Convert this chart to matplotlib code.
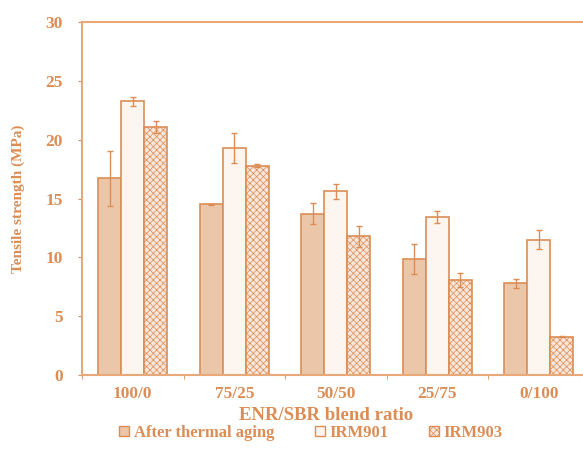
#!/usr/bin/env python3

import numpy as np
import matplotlib.pyplot as plt
from matplotlib.patches import Patch

# dados
ratios = ['100/0', '75/25', '50/50', '25/75', '0/100']
series = ['After thermal aging', 'IRM901', 'IRM903']
aged = [16.7, 14.5, 13.7, 9.85, 7.8]
aged_err = [2.3, 0.05, 0.9, 1.25, 0.4]
irm901 = [23.25, 19.3, 15.6, 13.4, 11.5]
irm901_err = [0.35, 1.3, 0.6, 0.5, 0.8]
irm903 = [21.1, 17.8, 11.8, 8.1, 3.25]
irm903_err = [0.5, 0.1, 0.9, 0.6, 0.05]

laranja = '#dc8d55'
plt.rcParams['font.family'] = ['Liberation Serif', 'DejaVu Serif']
plt.rcParams['hatch.color'] = '#ecbc9c'
plt.rcParams['hatch.linewidth'] = 0.5

fig = plt.figure(figsize=(5.83, 4.51), dpi=100)
ax = fig.add_axes([82/583, 1-375/451, (589.5-82)/583, (375-22)/451])

x = np.arange(len(ratios))
w = 0.225
d = 0.228
ax.bar(x-d, aged, w, color='#ebc6a9', edgecolor=laranja, linewidth=1.2)
ax.bar(x, irm901, w, color='#fdf6f0', edgecolor=laranja, linewidth=1.2)
ax.bar(x+d, irm903, w, color='#f8e6da', edgecolor=laranja, linewidth=1.2, hatch='xxxxx')
for xs, v, e in [(x-d, aged, aged_err), (x, irm901, irm901_err), (x+d, irm903, irm903_err)]:
	ax.errorbar(xs, v, yerr=e, fmt='none', ecolor=laranja, elinewidth=1, capsize=2.5, capthick=1)

ax.set_xlim(-0.5, len(ratios)-0.5)
ax.set_ylim(0, 30)
ax.set_yticks(np.arange(0, 31, 5))
ax.set_xticks(x)
ax.set_xticklabels(ratios)
ax.set_xticks(np.arange(-0.5, len(ratios), 1), minor=True)
ax.tick_params(axis='x', which='major', length=0, pad=8)
ax.tick_params(axis='x', which='minor', length=3, color=laranja, direction='out')
ax.tick_params(axis='y', length=3, color=laranja, pad=11)
for lab in ax.get_xticklabels() + ax.get_yticklabels():
	lab.set_color(laranja)
	lab.set_fontsize(12.5)
	lab.set_fontweight('bold')
for s in ax.spines.values():
	s.set_color('#e8a878')
	s.set_linewidth(1.5)

fig.text(18/583, 1-199/451, 'Tensile strength (MPa)', rotation=90, ha='center', va='center',
		color=laranja, fontsize=11, fontweight='bold')
fig.text(326/583, 1-416/451, 'ENR/SBR blend ratio', ha='center', va='center',
		color=laranja, fontsize=13.5, fontweight='bold')

handles = [Patch(facecolor='#ebc6a9', edgecolor=laranja),
		Patch(facecolor='#fdf6f0', edgecolor=laranja),
		Patch(facecolor='#f8e6da', edgecolor=laranja, hatch='xxxxx')]
leg = fig.legend(handles, series, loc='center', bbox_to_anchor=(311/583, 1-433/451), ncol=3,
		frameon=False, handlelength=0.6, handleheight=0.6, handletextpad=0.3, columnspacing=2.4,
		prop={'size': 12, 'weight': 'bold'})
for t in leg.get_texts():
	t.set_color(laranja)

plt.savefig('out.png', dpi=100)
